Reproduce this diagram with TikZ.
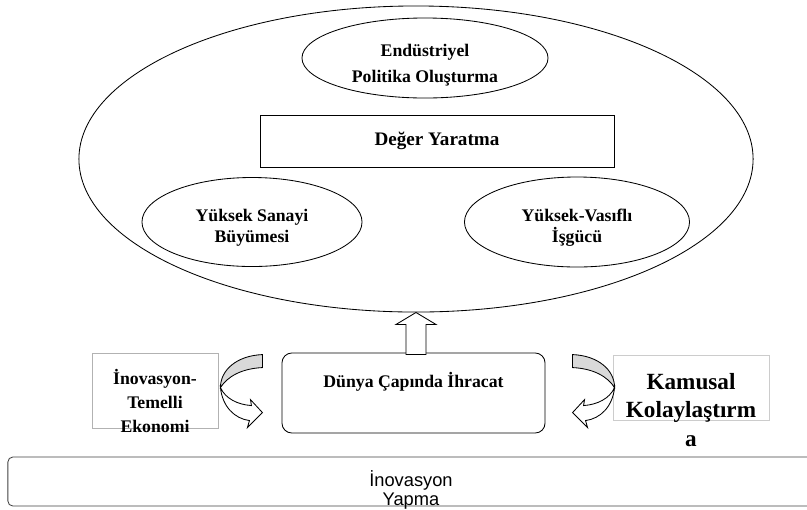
\documentclass[tikz,border=0pt]{standalone}
\usepackage{fontspec}
\setmainfont{Liberation Serif}
\newfontfamily\arialfont{Liberation Sans}
\usepackage{tikz}
\usetikzlibrary{shapes.geometric, positioning, calc}
\tikzstyle{halka} = [ellipse, draw, inner sep=0pt, line width=0.6pt]
\tikzstyle{kutu} = [rectangle, draw, inner sep=0pt, line width=0.6pt]
\tikzstyle{blok} = [draw, line width=0.6pt, fill=white, line join=miter]
\tikzstyle{kamuyazi} = [font=\bfseries\fontsize{16.5}{20.5}\selectfont, align=center, inner sep=0pt]
\tikzset{
  yazi/.style={font=\bfseries\fontsize{12.6}{#1}\selectfont, align=center, inner sep=0pt},
  yazi/.default=15,
  donenok/.pic={
    % white lower band with the head
    \draw[blok] (-42,33) .. controls (-40,52) and (-28,64) .. (-13,66) -- (-15,73) -- (0,58) -- (-12,45) -- (-11,51) .. controls (-25,50) and (-37,44) .. (-42,33) -- cycle;
    % grey upper band
    \draw[blok, fill=gray!30] (0,0) .. controls (-25,1) and (-42,15) .. (-42,33) .. controls (-35,22) and (-21,14) .. (0,13) -- cycle;
  }
}

\begin{document}
\begin{tikzpicture}[x=0.025cm, y=-0.025cm]
    \clip (0,0) rectangle (807,509);

    % Outer ellipse and its content
    \node[halka, minimum width=16.85cm, minimum height=7.65cm] (buyuk) at (416,159) {};
    \node[halka, minimum width=6.15cm, minimum height=2cm] (endustri) at (425,58) {};
    \node[yazi=18] at ([yshift=-5pt]endustri.center) {Endüstriyel\\Politika Oluşturma};
    \node[kutu, minimum width=8.85cm, minimum height=1.3cm, yazi, font=\bfseries\fontsize{13.6}{15}\selectfont] (deger) at (437,141) {Değer Yaratma};
    \node[halka, minimum width=5.5cm, minimum height=2.225cm] (sanayi) at (252,222) {};
    \node[yazi] at ([yshift=-4pt]sanayi.center) {Yüksek Sanayi\\Büyümesi};
    \node[halka, minimum width=5.625cm, minimum height=2.25cm] (isgucu) at (577,222) {};
    \node[yazi] at ([yshift=-4pt]isgucu.center) {Yüksek-Vasıflı\\İşgücü};

    % Middle row
    \node[kutu, rounded corners=7pt, minimum width=6.575cm, minimum height=2cm] (dunya) at (413.5,393) {};
    \node[yazi] at ([yshift=8pt]dunya.center) {Dünya Çapında İhracat};
    \node[kutu, draw=gray!60, minimum width=3.15cm, minimum height=1.875cm] (temelli) at (155,390.5) {};
    \node[yazi=17] at ([yshift=-7.5pt]temelli.center) {İnovasyon-\\Temelli\\Ekonomi};
    \node[kutu, draw=gray!40, minimum width=3.9cm, minimum height=1.625cm] (kamusal) at (691,387.5) {};
    \node[kamuyazi] at ([yshift=-16pt]kamusal.center) {Kamusal\\Kolaylaştırm\\a};

    % Bottom bar
    \node[kutu, draw=black!75, rounded corners=3.5pt, minimum width=20.15cm, minimum height=1.225cm] (yapma) at (411,481.5) {};
    \node[font=\arialfont\fontsize{13}{14}\selectfont, align=center, inner sep=0pt] at ([yshift=-6pt]yapma.center) {İnovasyon\\Yapma};

    % Arrows
    \draw[blok] (buyuk.south) -- ++(20,12) -- ++(-10,0) -- ++(0,30) -- ++(-20,0) -- ++(0,-30) -- ++(-10,0) -- cycle;
    \pic at ($(temelli.north east)+(44,2)$) {donenok};
    \pic[xscale=-1] at ($(kamusal.north west)+(-40,0)$) {donenok};
\end{tikzpicture}
\end{document}
